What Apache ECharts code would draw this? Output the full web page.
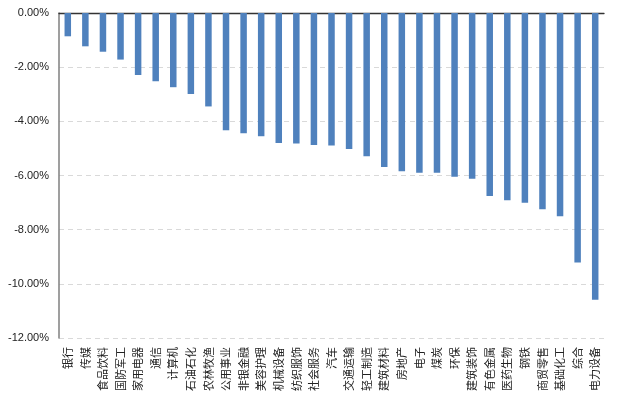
<!DOCTYPE html>
<html>
<head>
<meta charset="utf-8">
<script src="https://cdn.jsdelivr.net/npm/echarts@6/dist/echarts.min.js"></script>
<style>
html, body { margin: 0; padding: 0; background: #fff; }
#chart { width: 617px; height: 397px; }
</style>
</head>
<body>
<div id="chart"></div>
<script>
// 行业名称
var industries = ["银行", "传媒", "食品饮料", "国防军工", "家用电器", "通信", "计算机", "石油石化",
    "农林牧渔", "公用事业", "非银金融", "美容护理", "机械设备", "纺织服饰", "社会服务", "汽车",
    "交通运输", "轻工制造", "建筑材料", "房地产", "电子", "煤炭", "环保", "建筑装饰",
    "有色金属", "医药生物", "钢铁", "商贸零售", "基础化工", "综合", "电力设备"];
// 涨跌幅(%)
var changes = [-0.86, -1.23, -1.43, -1.72, -2.29, -2.52, -2.74, -2.99,
    -3.45, -4.33, -4.44, -4.55, -4.80, -4.82, -4.87, -4.89,
    -5.02, -5.29, -5.69, -5.84, -5.90, -5.90, -6.05, -6.12,
    -6.76, -6.91, -7.01, -7.25, -7.50, -9.21, -10.59];
// 纵轴范围
var yMin = -12, yMax = 0, yStep = 2;

var chart = echarts.init(document.getElementById("chart"));
chart.setOption({
    animation: false,
    grid: { left: 59, right: 13, top: 13, bottom: 59 },
    xAxis: [{
        type: "category",
        position: "top",
        data: industries,
        axisLine: { onZero: false, lineStyle: { color: "#333", width: 1.3 } },
        axisTick: { inside: true, length: 4, lineStyle: { color: "#333" } },
        axisLabel: { show: false }
    }, {
        type: "category",
        position: "bottom",
        data: industries,
        axisLine: { show: false },
        axisTick: { show: false },
        axisLabel: {
            rotate: 90,
            interval: 0,
            margin: 9,
            fontSize: 11,
            color: "#222",
            fontFamily: "Noto Sans CJK SC"
        }
    }],
    yAxis: {
        type: "value",
        min: yMin,
        max: yMax,
        interval: yStep,
        axisLine: { show: true, lineStyle: { color: "#7f7f7f", width: 1.5 } },
        axisTick: { show: false },
        axisLabel: {
            margin: 10,
            fontSize: 11,
            color: "#222",
            fontFamily: "Liberation Sans",
            formatter: function(v) { return v.toFixed(2) + "%"; }
        },
        splitLine: { lineStyle: { color: "#d9d9d9", type: [5, 4] } }
    },
    series: [{
        type: "bar",
        xAxisIndex: 0,
        data: changes,
        barWidth: 6.5,
        itemStyle: { color: "#4f81bd" }
    }]
});
</script>
</body>
</html>
